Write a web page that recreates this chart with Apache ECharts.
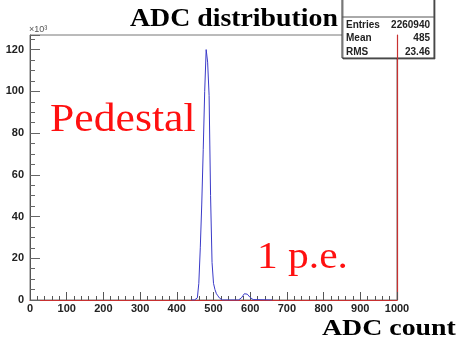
<!DOCTYPE html>
<html><head><meta charset="utf-8">
<script src="https://cdn.jsdelivr.net/npm/echarts@6/dist/echarts.min.js"></script>
<style>html,body{margin:0;padding:0;background:#fff}#c{width:459px;height:340px}</style>
</head><body><div id="c"></div>
<script>
// ADC bin centres and counts (in units of 10^3)
const adcBins = [440,448,452,456,460,464,468,472,476,480,484,488,492,496,500,504,508,512,516,520,524,
                 568,572,576,580,584,588,592,596,600,604,608,612,660];
const countsK = [0,0,0,1,8,25,46,72,100,120,114,98,50,18,8,5,3,2,1,0.3,0,
                 0,0.3,1,2,3,3.2,2.8,2,1.2,0.5,0.2,0,0];
const xTicks = [0,100,200,300,400,500,600,700,800,900,1000];
const yTicks = [0,20,40,60,80,100,120];
const stats = [["Entries","2260940"],["Mean","485"],["RMS","23.46"]];

const chart = echarts.init(document.getElementById('c'), null, {renderer:'canvas'});
const lab = {fontFamily:'Liberation Sans, Arial', fontWeight:'bold', fontSize:11, color:'#222'};
const statChildren = [
  {type:'rect', shape:{x:0,y:0,width:92,height:61}, style:{fill:'#fff',stroke:'#333',lineWidth:1,shadowColor:'rgba(0,0,0,0.5)',shadowOffsetX:1,shadowOffsetY:1,shadowBlur:0}},
  {type:'line', shape:{x1:0,y1:20,x2:92,y2:20}, style:{stroke:'#555',lineWidth:1}}
];
stats.forEach((r,i)=>{
  statChildren.push({type:'text', x:4, y:28+i*13.5, style:{text:r[0], font:'bold 10px "Liberation Sans"', fill:'#222', verticalAlign:'middle'}});
  statChildren.push({type:'text', x:88, y:28+i*13.5, style:{text:r[1], font:'bold 10px "Liberation Sans"', fill:'#222', align:'right', verticalAlign:'middle'}});
});

chart.setOption({
  animation:false,
  grid:{left:30, right:62, top:35, bottom:40, show:true, borderColor:'#777', borderWidth:1, backgroundColor:'transparent'},
  xAxis:{type:'value', min:0, max:1000, interval:100,
    axisLine:{show:true, onZero:false, lineStyle:{color:'#c83030', width:1.2}},
    axisTick:{show:true, inside:true, length:8, lineStyle:{color:'#555'}},
    minorTick:{show:true, splitNumber:5, length:4, lineStyle:{color:'#555'}},
    splitLine:{show:false},
    axisLabel:Object.assign({margin:3, formatter:v=>xTicks.includes(v)?String(v):''}, lab)
  },
  yAxis:[{type:'value', min:0, max:127, interval:20,
    axisLine:{show:true, lineStyle:{color:'#555'}},
    axisTick:{show:true, inside:true, length:10, lineStyle:{color:'#666'}},
    minorTick:{show:true, splitNumber:4, length:5, lineStyle:{color:'#666'}},
    splitLine:{show:false},
    axisLabel:Object.assign({margin:6, showMaxLabel:false, formatter:v=>yTicks.includes(v)?String(v):''}, lab)
  },{type:'value', position:'right', min:0, max:127, interval:20,
    axisLine:{show:true, lineStyle:{color:'#c83030', width:1.2}},
    axisTick:{show:false}, axisLabel:{show:false}, splitLine:{show:false}
  }],
  series:[{type:'line', data:adcBins.map((x,i)=>[x,countsK[i]]), symbol:'none',
    lineStyle:{color:'#3a3ac8', width:1}, z:1}],
  graphic:[
    {type:'text', x:130, y:6, scaleX:1.07, style:{text:'ADC distribution', font:'bold 26px "Liberation Serif"', fill:'#000', verticalAlign:'top'}},
    {type:'text', left:29, top:25, style:{text:'×10³', font:'9px "Liberation Sans"', fill:'#555'}},
    {type:'text', x:50, y:101, scaleX:1.12, style:{text:'Pedestal', font:'39px "Liberation Serif"', fill:'#ff1010', verticalAlign:'top'}},
    {type:'text', x:257, y:240, scaleX:1.12, style:{text:'1 p.e.', font:'37px "Liberation Serif"', fill:'#ff1010', verticalAlign:'top'}},
    {type:'text', x:322, y:317, scaleX:1.16, style:{text:'ADC count', font:'bold 24px "Liberation Serif"', fill:'#000', verticalAlign:'top'}},
    {type:'group', x:342, y:-3, children:statChildren, z:100}
  ]
});
</script></body></html>
